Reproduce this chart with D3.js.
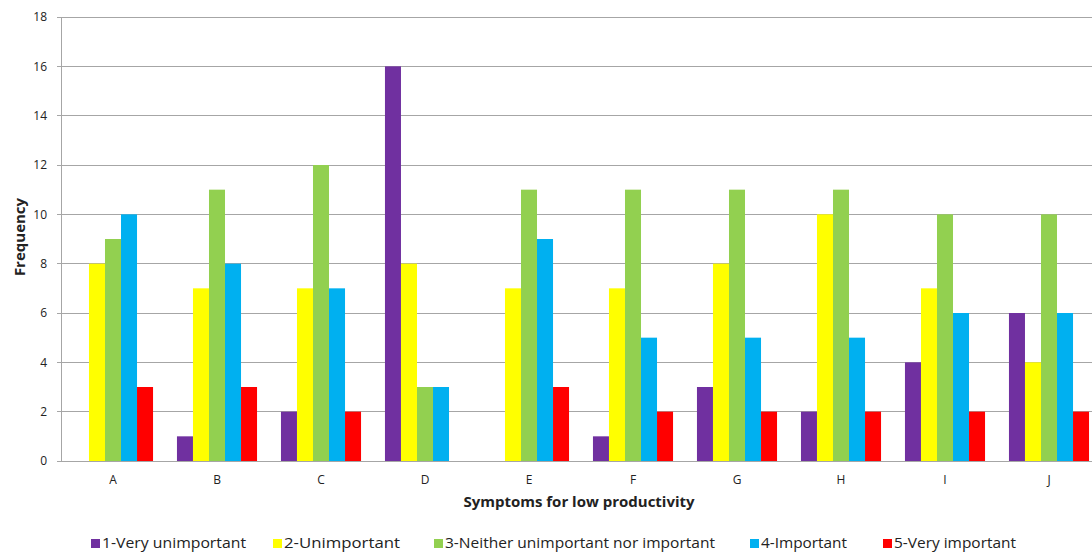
<!DOCTYPE html>
<html><head><meta charset="utf-8">
<script src="https://cdn.jsdelivr.net/npm/d3@7"></script>
<style>
html,body{margin:0;padding:0;background:#fff;overflow:hidden}
text{font-family:"Open Sans",Arial,sans-serif;fill:#222}
</style></head>
<body><svg id="c" width="1092" height="554"></svg>
<script>
const categories = ["A","B","C","D","E","F","G","H","I","J"];
const seriesNames = ["1-Very unimportant","2-Unimportant","3-Neither unimportant nor important","4-Important","5-Very important"];
const seriesColors = ["#7030A0","#FFFF00","#92D050","#00B0F0","#FF0000"];
const veryUnimportant = [0,1,2,16,0,1,3,2,4,6];
const unimportant     = [8,7,7,8,7,7,8,10,7,4];
const neither         = [9,11,12,3,11,11,11,11,10,10];
const important       = [10,8,7,3,9,5,5,5,6,6];
const veryImportant   = [3,3,2,0,3,2,2,2,2,2];
const yTicks = [0,2,4,6,8,10,12,14,16,18];
const seriesValues = [veryUnimportant, unimportant, neither, important, veryImportant];

(function(){
const svg = d3.select("#c");
const mLeft = 61, mRight = 1101, mTop = 17, mBottom = 461;
const x = d3.scaleBand().domain(categories).range([mLeft, mRight]).paddingInner(0.23).paddingOuter(0.115);
const xs = d3.scaleBand().domain(d3.range(seriesNames.length)).range([0, x.bandwidth()]);
const y = d3.scaleLinear().domain([0,18]).range([mBottom, mTop]);

svg.append("g").selectAll("line").data(yTicks).join("line")
  .attr("x1", mLeft-4).attr("x2", mRight).attr("y1", d=>y(d)).attr("y2", d=>y(d))
  .attr("stroke", "#a6a6a6").attr("stroke-width", 1).attr("shape-rendering","crispEdges");

const yAxis = d3.axisLeft(y).tickValues(yTicks).tickSize(0).tickPadding(14);
const yg = svg.append("g").attr("transform", `translate(${mLeft},0)`).call(yAxis);
yg.select(".domain").attr("stroke","#a6a6a6").attr("shape-rendering","crispEdges");
yg.selectAll("text").style("font-size","12px").style("font-family",'"Open Sans",Arial,sans-serif').attr("fill","#333");

const groups = svg.append("g").selectAll("g").data(categories).join("g")
  .attr("transform", c => `translate(${x(c)},0)`);
groups.selectAll("rect").data((c,i) => seriesValues.map((s,k)=>({k, v:s[i]}))).join("rect")
  .attr("x", d => xs(d.k)).attr("width", xs.bandwidth())
  .attr("y", d => y(d.v)).attr("height", d => y(0)-y(d.v))
  .attr("fill", d => seriesColors[d.k]);

const xAxis = d3.axisBottom(x).tickSize(0).tickPadding(14);
const xg = svg.append("g").attr("transform", `translate(0,${mBottom})`).call(xAxis);
xg.select(".domain").remove();
svg.append("line").attr("x1", mLeft).attr("x2", mRight).attr("y1", mBottom).attr("y2", mBottom)
  .attr("stroke","#a6a6a6").attr("shape-rendering","crispEdges");
xg.selectAll("text").style("font-size","12px").style("font-family",'"Open Sans",Arial,sans-serif').attr("fill","#333");

svg.append("text").attr("x", 579).attr("y", 507).attr("text-anchor","middle")
  .style("font-size","15px").style("font-weight","bold").text("Symptoms for low productivity");
svg.append("text").attr("transform","translate(25,237) rotate(-90)").attr("text-anchor","middle")
  .style("font-size","15px").style("font-weight","bold").text("Frequency");

const legendX = [91, 273, 434, 750, 883];
const legendW = [144, 116, 270, 86, 122];
const lg = svg.append("g").selectAll("g").data(seriesNames).join("g")
  .attr("transform", (d,i) => `translate(${legendX[i]},0)`);
lg.append("rect").attr("x",0).attr("y",539).attr("width",9).attr("height",9).attr("fill",(d,i)=>seriesColors[i]);
lg.append("text").attr("x",11).attr("y",548).style("font-size","14px")
  .attr("textLength",(d,i)=>legendW[i]).attr("lengthAdjust","spacingAndGlyphs").text(d=>d);
})();
</script></body></html>
